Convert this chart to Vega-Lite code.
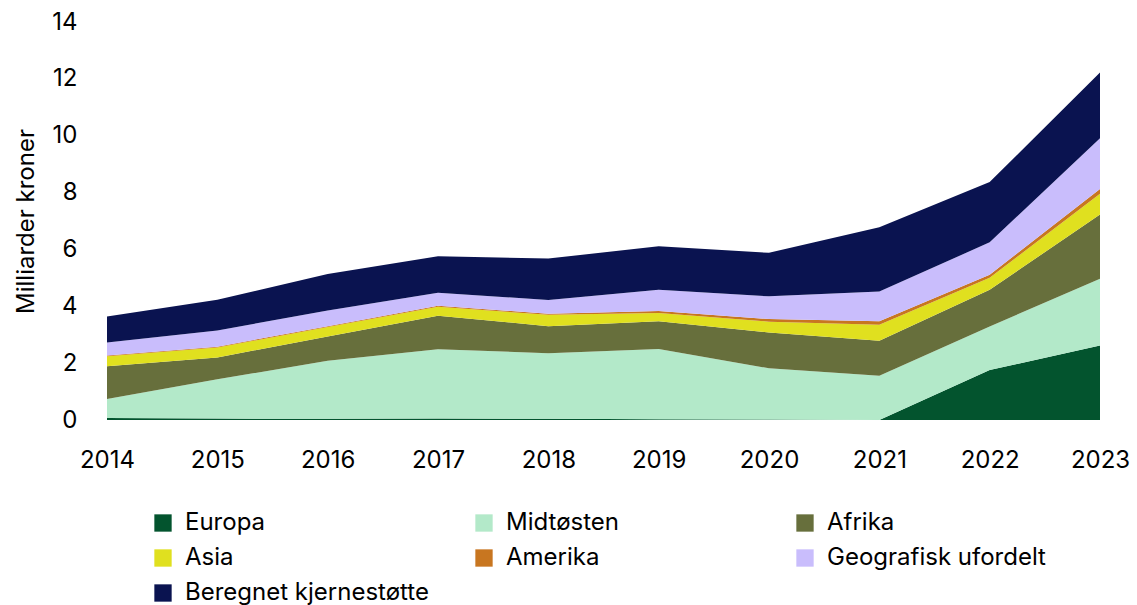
{
  "$schema": "https://vega.github.io/schema/vega-lite/v6.json",
  "autosize": "none",
  "width": 993,
  "height": 398,
  "padding": {"left": 107, "top": 22, "right": 37, "bottom": 185},
  "background": "white",
  "config": {
    "view": {"stroke": null},
    "font": "Inter"
  },
  "data": {
    "values": [
      {"year": 2014, "region": "Europa", "value": 0.07},
      {"year": 2014, "region": "Midtøsten", "value": 0.67},
      {"year": 2014, "region": "Afrika", "value": 1.15},
      {"year": 2014, "region": "Asia", "value": 0.35},
      {"year": 2014, "region": "Amerika", "value": 0.03},
      {"year": 2014, "region": "Geografisk ufordelt", "value": 0.46},
      {"year": 2014, "region": "Beregnet kjernestøtte", "value": 0.91},
      {"year": 2015, "region": "Europa", "value": 0.05},
      {"year": 2015, "region": "Midtøsten", "value": 1.38},
      {"year": 2015, "region": "Afrika", "value": 0.77},
      {"year": 2015, "region": "Asia", "value": 0.35},
      {"year": 2015, "region": "Amerika", "value": 0.03},
      {"year": 2015, "region": "Geografisk ufordelt", "value": 0.57},
      {"year": 2015, "region": "Beregnet kjernestøtte", "value": 1.08},
      {"year": 2016, "region": "Europa", "value": 0.04},
      {"year": 2016, "region": "Midtøsten", "value": 2.04},
      {"year": 2016, "region": "Afrika", "value": 0.86},
      {"year": 2016, "region": "Asia", "value": 0.33},
      {"year": 2016, "region": "Amerika", "value": 0.03},
      {"year": 2016, "region": "Geografisk ufordelt", "value": 0.55},
      {"year": 2016, "region": "Beregnet kjernestøtte", "value": 1.29},
      {"year": 2017, "region": "Europa", "value": 0.05},
      {"year": 2017, "region": "Midtøsten", "value": 2.44},
      {"year": 2017, "region": "Afrika", "value": 1.18},
      {"year": 2017, "region": "Asia", "value": 0.31},
      {"year": 2017, "region": "Amerika", "value": 0.04},
      {"year": 2017, "region": "Geografisk ufordelt", "value": 0.46},
      {"year": 2017, "region": "Beregnet kjernestøtte", "value": 1.28},
      {"year": 2018, "region": "Europa", "value": 0.04},
      {"year": 2018, "region": "Midtøsten", "value": 2.31},
      {"year": 2018, "region": "Afrika", "value": 0.95},
      {"year": 2018, "region": "Asia", "value": 0.40},
      {"year": 2018, "region": "Amerika", "value": 0.04},
      {"year": 2018, "region": "Geografisk ufordelt", "value": 0.48},
      {"year": 2018, "region": "Beregnet kjernestøtte", "value": 1.46},
      {"year": 2019, "region": "Europa", "value": 0.03},
      {"year": 2019, "region": "Midtøsten", "value": 2.47},
      {"year": 2019, "region": "Afrika", "value": 0.97},
      {"year": 2019, "region": "Asia", "value": 0.29},
      {"year": 2019, "region": "Amerika", "value": 0.07},
      {"year": 2019, "region": "Geografisk ufordelt", "value": 0.75},
      {"year": 2019, "region": "Beregnet kjernestøtte", "value": 1.53},
      {"year": 2020, "region": "Europa", "value": 0.02},
      {"year": 2020, "region": "Midtøsten", "value": 1.80},
      {"year": 2020, "region": "Afrika", "value": 1.26},
      {"year": 2020, "region": "Asia", "value": 0.38},
      {"year": 2020, "region": "Amerika", "value": 0.09},
      {"year": 2020, "region": "Geografisk ufordelt", "value": 0.80},
      {"year": 2020, "region": "Beregnet kjernestøtte", "value": 1.53},
      {"year": 2021, "region": "Europa", "value": 0.0},
      {"year": 2021, "region": "Midtøsten", "value": 1.56},
      {"year": 2021, "region": "Afrika", "value": 1.23},
      {"year": 2021, "region": "Asia", "value": 0.56},
      {"year": 2021, "region": "Amerika", "value": 0.12},
      {"year": 2021, "region": "Geografisk ufordelt", "value": 1.05},
      {"year": 2021, "region": "Beregnet kjernestøtte", "value": 2.26},
      {"year": 2022, "region": "Europa", "value": 1.76},
      {"year": 2022, "region": "Midtøsten", "value": 1.53},
      {"year": 2022, "region": "Afrika", "value": 1.29},
      {"year": 2022, "region": "Asia", "value": 0.42},
      {"year": 2022, "region": "Amerika", "value": 0.11},
      {"year": 2022, "region": "Geografisk ufordelt", "value": 1.14},
      {"year": 2022, "region": "Beregnet kjernestøtte", "value": 2.12},
      {"year": 2023, "region": "Europa", "value": 2.62},
      {"year": 2023, "region": "Midtøsten", "value": 2.35},
      {"year": 2023, "region": "Afrika", "value": 2.26},
      {"year": 2023, "region": "Asia", "value": 0.73},
      {"year": 2023, "region": "Amerika", "value": 0.17},
      {"year": 2023, "region": "Geografisk ufordelt", "value": 1.78},
      {"year": 2023, "region": "Beregnet kjernestøtte", "value": 2.31}
    ]
  },
  "transform": [
    {"calculate": "indexof(['Europa','Midtøsten','Afrika','Asia','Amerika','Geografisk ufordelt','Beregnet kjernestøtte'], datum.region)", "as": "stackOrder"}
  ],
  "mark": {"type": "area", "interpolate": "linear"},
  "encoding": {
    "x": {
      "field": "year",
      "type": "quantitative",
      "scale": {"domain": [2014, 2023], "nice": false, "zero": false},
      "axis": {
        "title": null,
        "values": [2014, 2015, 2016, 2017, 2018, 2019, 2020, 2021, 2022, 2023],
        "format": "d",
        "grid": false,
        "domain": false,
        "ticks": false,
        "labelFontSize": 24,
        "labelColor": "#000000",
        "labelPadding": 28,
        "labelFlush": false
      }
    },
    "y": {
      "field": "value",
      "type": "quantitative",
      "stack": "zero",
      "scale": {"domain": [0, 14], "nice": false},
      "axis": {
        "title": "Milliarder kroner",
        "values": [0, 2, 4, 6, 8, 10, 12, 14],
        "grid": false,
        "domain": false,
        "ticks": false,
        "labelFontSize": 24,
        "labelColor": "#000000",
        "labelPadding": 30,
        "titleFontSize": 24,
        "titleFontWeight": "normal",
        "titleColor": "#000000",
        "titlePadding": 13
      }
    },
    "order": {"field": "stackOrder", "type": "quantitative", "sort": "ascending"},
    "color": {
      "field": "region",
      "type": "nominal",
      "scale": {
        "domain": ["Europa", "Midtøsten", "Afrika", "Asia", "Amerika", "Geografisk ufordelt", "Beregnet kjernestøtte"],
        "range": ["#03542e", "#b3e9c9", "#676f3c", "#e0e01f", "#c87620", "#c9bdfc", "#0a1350"]
      },
      "legend": {
        "title": null,
        "orient": "none",
        "legendX": 44,
        "legendY": 489,
        "direction": "horizontal",
        "columns": 3,
        "gridAlign": "all",
        "columnPadding": 43,
        "rowPadding": 11,
        "symbolType": "square",
        "symbolSize": 300,
        "symbolStrokeWidth": 0,
        "symbolOpacity": 1,
        "labelFontSize": 24,
        "labelColor": "#000000",
        "labelOffset": 10,
        "labelLimit": 400
      }
    }
  }
}
